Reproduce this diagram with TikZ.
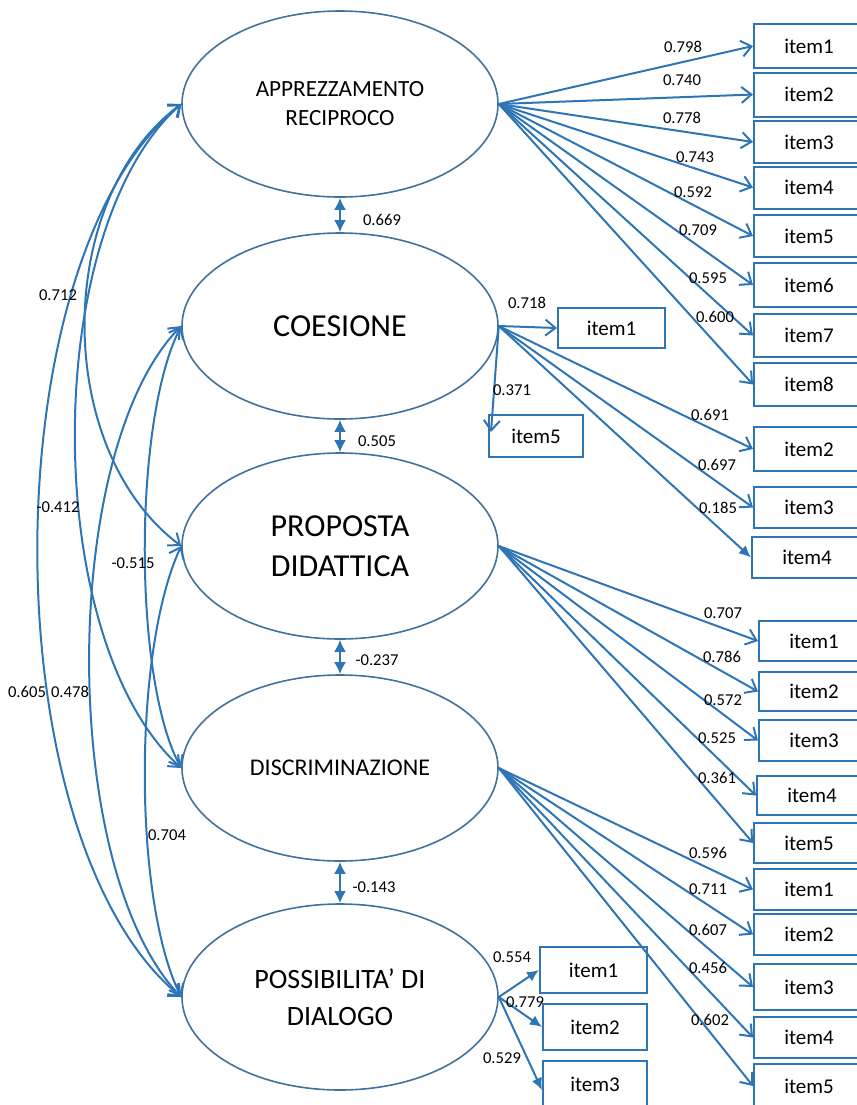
\documentclass[tikz,border=0pt]{standalone}
\usepackage{fontspec}
\setmainfont{Carlito}
\usetikzlibrary{arrows.meta,shapes.geometric}
\definecolor{pathblue}{RGB}{46,117,182}
\definecolor{latblue}{RGB}{65,113,156}

\begin{document}
\begin{tikzpicture}[x=0.5pt,y=-0.5pt,
  >={Straight Barb[length=5pt,width=8pt]},
  factor/.style={draw=latblue,line width=0.8pt,ellipse,minimum width=158pt,minimum height=93pt,inner sep=0pt,align=center},
  itembox/.style={draw=pathblue,line width=1pt,minimum width=55pt,minimum height=21pt,inner sep=0pt,anchor=west,font=\fontsize{10.5}{12}\selectfont},
  nearbox/.style={itembox,anchor=center},
  load/.style={pathblue,line width=1pt,->},
  loadf/.style={pathblue,line width=1pt,-{Latex[length=6pt,width=5.5pt]}},
  corr/.style={pathblue,line width=1pt,<->},
  link/.style={pathblue,line width=1.1pt,{Latex[length=6pt,width=6pt]}-{Latex[length=6pt,width=6pt]}},
  coef/.style={inner sep=0pt,font=\fontsize{8.3}{10}\selectfont}]
  \useasboundingbox (0,0) rectangle (857,1105);

  % latent factors
  \node[factor,font=\fontsize{11.6}{14.5}\selectfont] (appr) at (340,104) {APPREZZAMENTO\\RECIPROCO};
  \node[factor,font=\fontsize{16}{20}\selectfont] (coes) at (340,326) {COESIONE};
  \node[factor,font=\fontsize{16}{20}\selectfont] (prop) at (340,546) {PROPOSTA\\DIDATTICA};
  \node[factor,font=\fontsize{12}{14}\selectfont] (disc) at (340,768) {DISCRIMINAZIONE};
  \node[factor,font=\fontsize{14}{18.5}\selectfont] (poss) at (340,997) {POSSIBILITA’ DI\\DIALOGO};

  % covariances between neighbours
  \draw[link] (appr.south) -- (coes.north);
  \draw[link] (coes.south) -- (prop.north);
  \draw[link] (prop.south) -- (disc.north);
  \draw[link] (disc.south) -- (poss.north);
  \node[coef] (k12) at (382,220) {0.669};
  \node[coef] (k23) at (377,441) {0.505};
  \node[coef] (k34) at (377,660) {-0.237};
  \node[coef] (k45) at (374,887) {-0.143};

  % covariances on the left
  \draw[corr] (appr.west) .. controls (-10,260) and (-10,840) .. (poss.west);
  \draw[corr] (appr.west) .. controls (40,230) and (40,640) .. (disc.west);
  \draw[corr] (appr.west) .. controls (53,200) and (53,450) .. (prop.west);
  \draw[corr] (coes.west) .. controls (59,450) and (59,870) .. (poss.west);
  \draw[corr] (coes.west) .. controls (133,420) and (133,680) .. (disc.west);
  \draw[corr] (prop.west) .. controls (133,650) and (133,900) .. (poss.west);
  \node[coef] (r13) at (58,295) {0.712};
  \node[coef] (r14) at (58,507) {-0.412};
  \node[coef] (r24) at (133,563) {-0.515};
  \node[coef] (r15) at (27,692) {0.605};
  \node[coef] (r25) at (70,692) {0.478};
  \node[coef] (r35) at (167,835) {0.704};

  % apprezzamento reciproco
  \node[itembox,minimum height=22pt] (a1) at (753,46) {item1};
  \node[itembox,minimum height=22pt] (a2) at (753,94.5) {item2};
  \node[itembox,minimum height=21pt] (a3) at (753,142) {item3};
  \node[itembox,minimum height=21pt] (a4) at (753,187.5) {item4};
  \node[itembox,minimum height=21pt] (a5) at (753,236) {item5};
  \node[itembox,minimum height=22pt] (a6) at (753,285) {item6};
  \node[itembox,minimum height=21.5pt] (a7) at (753,335.5) {item7};
  \node[itembox,minimum height=21.5pt] (a8) at (753,384.5) {item8};
  \draw[load] (appr.east) -- (a1.west);
  \draw[load] (appr.east) -- (a2.west);
  \draw[load] (appr.east) -- (a3.west);
  \draw[load] (appr.east) -- (a4.west);
  \draw[load] (appr.east) -- (a5.west);
  \draw[load] (appr.east) -- (a6.west);
  \draw[load] (appr.east) -- (a7.west);
  \draw[load] (appr.east) -- (a8.west);
  \node[coef] (la1) at (683,47) {0.798};
  \node[coef] (la2) at (682,80) {0.740};
  \node[coef] (la3) at (682,118) {0.778};
  \node[coef] (la4) at (695,157) {0.743};
  \node[coef] (la5) at (693,192) {0.592};
  \node[coef] (la6) at (698,230) {0.709};
  \node[coef] (la7) at (708,278) {0.595};
  \node[coef] (la8) at (715,317) {0.600};

  % coesione
  \node[nearbox,minimum width=53.5pt,minimum height=20pt] (c1) at (611.5,328) {item1};
  \node[nearbox,minimum width=47pt,minimum height=21pt] (c5) at (536,436) {item5};
  \node[itembox,minimum height=22pt] (c2) at (753,449) {item2};
  \node[itembox,minimum height=20.5pt] (c3) at (753,507.5) {item3};
  \node[itembox,minimum height=20.5pt] (c4) at (751,557.5) {item4};
  \draw[load] (coes.east) -- (c1.west);
  \draw[load] (coes.east) -- ([xshift=1.5pt,yshift=-9pt]c5.north west);
  \draw[load] (coes.east) -- (c2.west);
  \draw[load] (coes.east) -- (c3.west);
  \draw[loadf] (coes.east) -- (c4.west);
  \node[coef] (lc1) at (527,303) {0.718};
  \node[coef] (lc5) at (512,390) {0.371};
  \node[coef] (lc2) at (710,415) {0.691};
  \node[coef] (lc3) at (717,465) {0.697};
  \node[coef] (lc4) at (718,508) {0.185};

  % proposta didattica
  \node[itembox,minimum height=20pt] (p1) at (758,641) {item1};
  \node[itembox,minimum height=19.5pt] (p2) at (758,691.5) {item2};
  \node[itembox,minimum height=20.5pt] (p3) at (758,740.5) {item3};
  \node[itembox,minimum height=19.5pt] (p4) at (756,795.5) {item4};
  \node[itembox,minimum height=20pt] (p5) at (753,843) {item5};
  \draw[load] (prop.east) -- (p1.west);
  \draw[load] (prop.east) -- (p2.west);
  \draw[load] (prop.east) -- (p3.west);
  \draw[load] (prop.east) -- (p4.west);
  \draw[load] (prop.east) -- (p5.west);
  \node[coef] (lp1) at (723,613) {0.707};
  \node[coef] (lp2) at (722,657) {0.786};
  \node[coef] (lp3) at (723,700) {0.572};
  \node[coef] (lp4) at (717,738) {0.525};
  \node[coef] (lp5) at (717,778) {0.361};

  % discriminazione
  \node[itembox,minimum height=20.5pt] (d1) at (753,889.5) {item1};
  \node[itembox,minimum height=20.5pt] (d2) at (753,934.5) {item2};
  \node[itembox,minimum height=23pt] (d3) at (753,987) {item3};
  \node[itembox,minimum height=20.5pt] (d4) at (753,1037.5) {item4};
  \node[itembox,minimum height=22pt] (d5) at (753,1086) {item5};
  \draw[load] (disc.east) -- (d1.west);
  \draw[load] (disc.east) -- (d2.west);
  \draw[load] (disc.east) -- (d3.west);
  \draw[load] (disc.east) -- (d4.west);
  \draw[load] (disc.east) -- (d5.west);
  \node[coef] (ld1) at (708,853) {0.596};
  \node[coef] (ld2) at (708,889) {0.711};
  \node[coef] (ld3) at (708,930) {0.607};
  \node[coef] (ld4) at (708,968) {0.456};
  \node[coef] (ld5) at (710,1020) {0.602};

  % possibilita di dialogo
  \node[nearbox,minimum width=53.5pt,minimum height=23pt] (s1) at (593.5,970) {item1};
  \node[nearbox,minimum width=52pt,minimum height=23pt] (s2) at (595,1027) {item2};
  \node[nearbox,minimum width=52pt,minimum height=23pt] (s3) at (595,1084) {item3};
  \draw[loadf] (poss.east) -- (s1.west);
  \draw[loadf] (poss.east) -- (s2.west);
  \draw[loadf] (poss.east) -- ([yshift=-3pt]s3.west);
  \node[coef] (ls1) at (512,957) {0.554};
  \node[coef] (ls2) at (525,1002) {0.779};
  \node[coef] (ls3) at (502,1058) {0.529};
\end{tikzpicture}
\end{document}
